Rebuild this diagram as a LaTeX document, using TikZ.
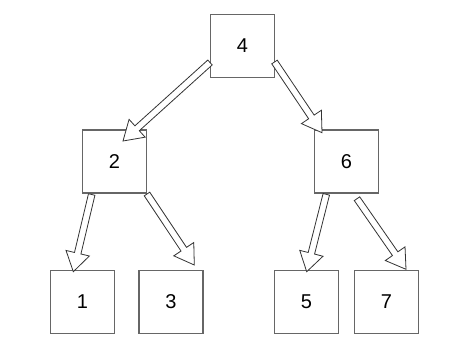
\documentclass[tikz,border=0pt]{standalone}
\usepackage{fontspec}
\setmainfont{Liberation Sans}
\usepackage{tikz}
\usetikzlibrary{calc}

% hollow block arrow from #1 (tail) to #2 (tip)
\newcommand{\fatarrow}[2]{%
  \coordinate (neck) at ($(#2)!19pt!(#1)$);
  \draw[fatline] ($(#1)!3.3pt!90:(#2)$) -- ($(neck)!3.3pt!90:(#2)$)
    -- ($(neck)!12pt!90:(#2)$) -- (#2) -- ($(neck)!12pt!-90:(#2)$)
    -- ($(neck)!3.3pt!-90:(#2)$) -- ($(#1)!3.3pt!-90:(#2)$) -- cycle;}

\begin{document}
\begin{tikzpicture}[
x=1pt, y=-1pt,
box/.style={draw=black!60, line width=1.2pt, minimum width=64pt, minimum height=63pt, inner sep=0pt, font=\fontsize{20}{24}\selectfont},
fatline/.style={draw=black!80, fill=white, line width=0.8pt, line join=miter} ]

\useasboundingbox (0,0) rectangle (455,362);

\node[box](A) at (242.5,46) {4};

\node[box](B) at (114.5,161.5) {2};

\node[box](C) at (346.5,161.5) {6};

\node[box](D) at (82.5,302) {1};

\node[box](E) at (171,302) {3};

\node[box](F) at (306.5,302) {5};

\node[box](G) at (386.5,302) {7};

% arrow ends
\coordinate (AB1) at ($(A)+(-32.5,16.5)$);
\coordinate (AB2) at ($(B)+(8.5,-20.5)$);
\coordinate (AC1) at ($(A)+(32,16)$);
\coordinate (AC2) at ($(C)+(-24.5,-28.8)$);
\coordinate (BD1) at ($(B)+(-22.8,33)$);
\coordinate (BD2) at ($(D)+(-9.2,-30.3)$);
\coordinate (BE1) at ($(B)+(32.5,32.5)$);
\coordinate (BE2) at ($(E)+(23.3,-37)$);
\coordinate (CF1) at ($(C)+(-20.2,32.8)$);
\coordinate (CF2) at ($(F)+(0.2,-30.3)$);
\coordinate (CG1) at ($(C)+(10.5,37.2)$);
\coordinate (CG2) at ($(G)+(19.5,-32.7)$);

\fatarrow{AB1}{AB2}
\fatarrow{AC1}{AC2}
\fatarrow{BD1}{BD2}
\fatarrow{BE1}{BE2}
\fatarrow{CF1}{CF2}
\fatarrow{CG1}{CG2}

\end{tikzpicture}
\end{document}
